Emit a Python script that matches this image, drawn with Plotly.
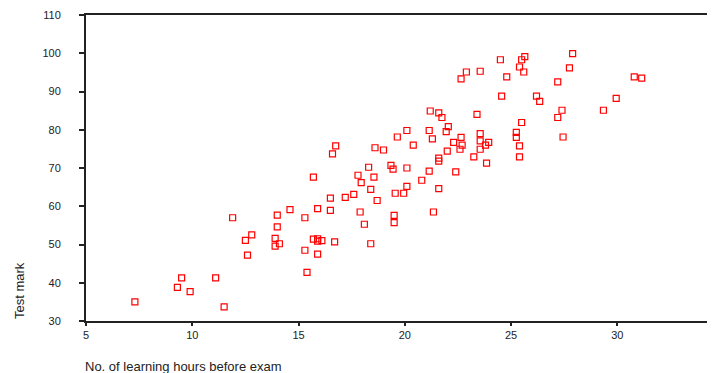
import plotly.graph_objects as go

hours = [7.3, 9.3, 9.5, 9.9, 11.1, 11.5, 11.9, 12.5, 12.8, 12.6,
         13.9, 13.9, 14.1, 14.0, 14.0, 14.6, 15.3, 15.3, 15.4, 15.7,
         15.9, 16.1, 15.9, 15.9, 15.9, 16.5, 16.5, 16.7, 17.2, 17.6,
         17.9, 16.75, 16.6, 15.7, 18.6, 19.0, 19.65, 20.1, 20.4, 18.3,
         19.35, 19.45, 20.1, 17.8, 17.95, 18.55, 18.4, 20.1, 19.55, 19.95,
         18.7, 18.1, 19.5, 19.5, 18.4, 24.56, 21.2, 21.6, 21.75, 23.4,
         25.5, 21.15, 22.05, 21.95, 21.3, 22.65, 23.55, 25.25, 25.25, 22.3,
         22.7, 23.55, 23.8, 23.95, 22.6, 23.55, 25.4, 22.0, 23.25, 23.85,
         25.4, 21.6, 21.6, 21.15, 22.4, 20.8, 21.6, 21.35, 24.5, 25.65,
         25.5, 27.9, 25.4, 25.6, 27.75, 22.9, 23.55, 22.65, 24.8, 27.2,
         26.2, 26.35, 27.4, 27.2, 27.45, 30.8, 31.15, 29.95, 29.35]

marks = [35.0, 38.8, 41.3, 37.7, 41.3, 33.7, 57.0, 51.1, 52.5, 47.2,
         51.6, 49.6, 50.2, 57.7, 54.6, 59.1, 57.0, 48.5, 42.7, 51.4,
         51.5, 51.0, 50.9, 47.5, 59.4, 58.9, 62.1, 50.7, 62.3, 63.1,
         58.5, 75.8, 73.7, 67.6, 75.3, 74.7, 78.1, 79.8, 76.0, 70.2,
         70.7, 69.7, 70.0, 68.1, 66.2, 67.6, 64.4, 65.2, 63.4, 63.4,
         61.5, 55.3, 57.6, 55.7, 50.2, 88.8, 84.9, 84.4, 83.2, 84.0,
         81.9, 79.8, 80.8, 79.5, 77.6, 78.0, 79.0, 79.3, 78.0, 76.7,
         76.0, 77.1, 76.0, 76.7, 74.9, 74.9, 75.8, 74.4, 72.9, 71.3,
         72.9, 72.6, 71.8, 69.2, 69.0, 66.8, 64.6, 58.5, 98.3, 99.1,
         98.3, 99.9, 96.4, 95.1, 96.2, 95.1, 95.3, 93.3, 93.8, 92.5,
         88.8, 87.4, 85.1, 83.2, 78.1, 93.8, 93.5, 88.2, 85.1]

x_ticks = [5, 10, 15, 20, 25, 30]
y_ticks = [30, 40, 50, 60, 70, 80, 90, 100, 110]

fig = go.Figure()
fig.add_trace(go.Scatter(
    x=hours, y=marks, mode="markers",
    marker=dict(symbol="square-open", size=6, color="#ff0000",
                line=dict(width=1.2, color="#ff0000")),
    showlegend=False, hoverinfo="x+y",
))

axis_common = dict(showgrid=False, zeroline=False, showline=True,
                   linecolor="#222222", linewidth=2, ticks="outside",
                   tickcolor="#222222", tickwidth=2,
                   tickfont=dict(family="Liberation Sans", size=11, color="#222222"))

# the page body adds an 8px offset, so the figure is 707x365
fig.update_layout(
    width=707, height=365,
    margin=dict(l=78, r=0, t=7, b=52, autoexpand=False),
    plot_bgcolor="white", paper_bgcolor="white",
    xaxis=dict(range=[5, 34.6], tickvals=x_ticks, ticklen=3, mirror=True,
               automargin=False, **axis_common),
    yaxis=dict(range=[30, 110], tickvals=y_ticks, ticklen=5, ticklabelstandoff=16,
               automargin=False, **axis_common),
    annotations=[
        dict(text="Test mark", xref="paper", yref="paper", x=-0.1065, y=0.098,
             xanchor="center", yanchor="middle", textangle=-90, showarrow=False,
             font=dict(family="Liberation Sans", size=13, color="#222222")),
        dict(text="No. of learning hours before exam", xref="paper", yref="paper",
             x=-0.005, y=-0.150, xanchor="left", yanchor="middle", showarrow=False,
             font=dict(family="Liberation Sans", size=13, color="#222222")),
    ],
)

fig.write_html("out.html")
